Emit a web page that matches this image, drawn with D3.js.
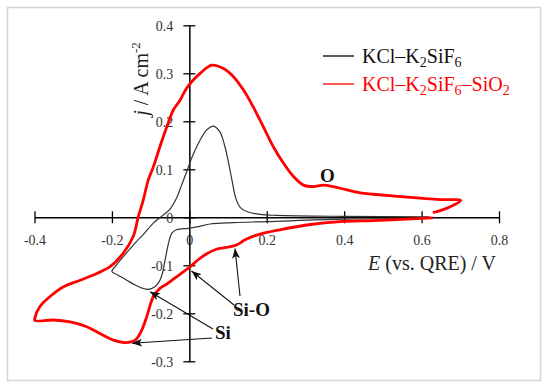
<!DOCTYPE html>
<html><head><meta charset="utf-8">
<script src="https://cdn.jsdelivr.net/npm/d3@7"></script>
<style>
body{margin:0;background:#fff}
svg{display:block}
</style>
</head><body>
<svg id="c" width="550" height="390" font-family="'Liberation Serif', 'DejaVu Serif', serif"></svg>
<script>
const FONT = "'Liberation Serif', 'DejaVu Serif', serif";
// ---- data ----
const xTicks = [-0.4, -0.2, 0, 0.2, 0.4, 0.6, 0.8];
const yTicks = [-0.3, -0.2, -0.1, 0, 0.1, 0.2, 0.3, 0.4];
const xTickLabels = ["-0.4", "-0.2", "0", "0.2", "0.4", "0.6", "0.8"];
const yTickLabels = ["-0.3", "-0.2", "-0.1", "0", "0.1", "0.2", "0.3", "0.4"];

// KCl–K2SiF6 (black)
const blackE = [0.62,0.4,0.2,0.114,0.053,0.019,-0.003,-0.033,-0.045,-0.052,-0.058,-0.064,-0.069,-0.077,-0.090,-0.106,-0.120,-0.140,-0.162,-0.185,-0.200,
  -0.190,-0.162,-0.136,-0.119,-0.093,-0.070,-0.050,-0.033,-0.020,-0.007,0.002,0.015,0.028,0.045,0.062,0.079,0.092,0.101,0.110,0.120,0.132,0.148,0.183,0.226,0.400,0.620];
const blackJ = [-0.002,-0.004,-0.009,-0.011,-0.014,-0.020,-0.023,-0.026,-0.033,-0.048,-0.070,-0.095,-0.115,-0.133,-0.145,-0.150,-0.148,-0.141,-0.131,-0.120,-0.113,
  -0.101,-0.074,-0.050,-0.036,-0.012,0.003,0.017,0.040,0.067,0.095,0.115,0.140,0.161,0.182,0.190,0.178,0.147,0.115,0.078,0.040,0.020,0.012,0.006,0.004,0.002,0.001];

// KCl–K2SiF6–SiO2 (red)
const redE = [0.629,0.562,0.475,0.389,0.312,0.234,0.174,0.144,0.121,0.092,0.071,0.045,0.022,0.002,-0.033,-0.058,-0.076,-0.093,-0.110,-0.123,-0.140,-0.166,-0.196,-0.231,-0.265,-0.308,-0.351,-0.399,
  -0.399,-0.386,-0.360,-0.326,-0.282,-0.239,-0.205,-0.171,-0.145,-0.132,-0.119,-0.106,-0.093,-0.076,-0.058,-0.041,-0.024,-0.007,0.010,0.028,0.058,0.088,0.114,0.140,0.165,0.191,0.217,0.243,0.269,0.295,0.320,0.346,0.372,0.407,0.441,0.475,0.562,0.648,0.701,0.674,0.648,0.629];
const redJ = [-0.001,-0.004,-0.007,-0.009,-0.015,-0.026,-0.037,-0.047,-0.058,-0.063,-0.066,-0.076,-0.089,-0.103,-0.124,-0.139,-0.148,-0.165,-0.207,-0.235,-0.256,-0.261,-0.256,-0.242,-0.228,-0.218,-0.214,-0.215,
  -0.210,-0.186,-0.165,-0.145,-0.131,-0.117,-0.103,-0.075,-0.040,0.001,0.036,0.078,0.105,0.147,0.189,0.224,0.244,0.269,0.286,0.300,0.317,0.310,0.293,0.265,0.230,0.189,0.147,0.113,0.085,0.067,0.064,0.067,0.064,0.057,0.051,0.048,0.042,0.037,0.035,0.022,0.014,0.010];

const seriesColors = ["#333333", "#ff0000"];

// ---- chart ----
const svg = d3.select("#c");
svg.append("rect").attr("x",7.5).attr("y",7.5).attr("width",533).attr("height",373)
  .attr("fill","#fff").attr("stroke","#d4d4d4").attr("stroke-width",1.5);

const x = d3.scaleLinear().domain([-0.4, 0.8]).range([34.5, 499]);
const y = d3.scaleLinear().domain([-0.3, 0.4]).range([361.3, 25.3]);

// x axis
const gx = svg.append("g").attr("transform", `translate(0,${y(0)})`)
  .call(d3.axisBottom(x).tickValues(xTicks).tickFormat((d,i)=>xTickLabels[i]).tickSizeOuter(0).tickSizeInner(6));
gx.attr("font-family", FONT).attr("font-size", 14);
gx.select(".domain").attr("stroke","#000").attr("stroke-width",1.5);
gx.selectAll(".tick line").attr("y1",-6).attr("y2",6).attr("stroke","#000").attr("stroke-width",1.3);
gx.selectAll(".tick text").attr("y",28).attr("dy",0).attr("fill","#333");

// y axis
const gy = svg.append("g").attr("transform", `translate(${x(0)},0)`)
  .call(d3.axisLeft(y).tickValues(yTicks).tickFormat((d,i)=>yTickLabels[i]).tickSizeOuter(0).tickSizeInner(6));
gy.attr("font-family", FONT).attr("font-size", 14);
gy.select(".domain").attr("stroke","#000").attr("stroke-width",1.5);
gy.selectAll(".tick line").attr("x1",-6).attr("x2",6).attr("stroke","#000").attr("stroke-width",1.3);
gy.selectAll(".tick text").attr("x",-16).attr("dy","0.34em").attr("fill","#333");

// axis titles
const xt = svg.append("text").attr("x",496).attr("y",270).attr("text-anchor","end")
  .attr("font-family",FONT).attr("font-size",20).attr("fill","#222");
xt.append("tspan").attr("font-style","italic").text("E");
xt.append("tspan").text(" (vs. QRE) / V");

const yt = svg.append("text").attr("transform","translate(148,79) rotate(-90)")
  .attr("text-anchor","middle").attr("font-family",FONT).attr("font-size",20).attr("fill","#222");
yt.append("tspan").attr("font-style","italic").text("j");
yt.append("tspan").text(" / A cm");
yt.append("tspan").attr("font-size",13).attr("dy",-8).text("-2");

// curves
const line = d3.line().x(d=>x(d[0])).y(d=>y(d[1])).curve(d3.curveCatmullRom.alpha(0.5));
const blackData = blackE.map((e,i)=>[e, blackJ[i]]);
const redData = redE.map((e,i)=>[e, redJ[i]]);
svg.append("path").datum(blackData).attr("d",line).attr("fill","none")
  .attr("stroke",seriesColors[0]).attr("stroke-width",1.2);
svg.append("path").datum(redData).attr("d",line).attr("fill","none")
  .attr("stroke",seriesColors[1]).attr("stroke-width",2.8).attr("stroke-linejoin","round");

// legend
function legendLabel(g, yb, parts, color){
  const t = g.append("text").attr("x",362).attr("y",yb).attr("font-family",FONT).attr("font-size",20).attr("fill",color);
  let shifted = false;
  parts.forEach(p=>{
    const ts = t.append("tspan").text(p.t);
    if(p.sub){ ts.attr("font-size",14).attr("dy", shifted ? 0 : 4); shifted = true; }
    else { ts.attr("dy", shifted ? -4 : 0); shifted = false; }
  });
}
const lg = svg.append("g");
lg.append("line").attr("x1",323).attr("x2",354).attr("y1",56).attr("y2",56).attr("stroke","#000").attr("stroke-width",1.3);
lg.append("line").attr("x1",323).attr("x2",354).attr("y1",84).attr("y2",84).attr("stroke","#ff0000").attr("stroke-width",1.3);
legendLabel(lg, 62.7, [{t:"KCl–K"},{t:"2",sub:1},{t:"SiF"},{t:"6",sub:1}], "#111");
legendLabel(lg, 90.7, [{t:"KCl–K"},{t:"2",sub:1},{t:"SiF"},{t:"6",sub:1},{t:"–SiO"},{t:"2",sub:1}], "#ff0000");

// annotations
svg.append("defs").append("marker").attr("id","ah").attr("viewBox","0 0 10 8")
  .attr("refX",10).attr("refY",4).attr("markerWidth",10).attr("markerHeight",8)
  .attr("markerUnits","userSpaceOnUse").attr("orient","auto")
  .append("path").attr("d","M0,0 L10,4 L0,8 L2.5,4 Z").attr("fill","#111");
const arrows = [
  [212,338,132,343.3],
  [213,329,150,291.7],
  [234,305,191.5,271],
  [240,296,235,248.5]
];
svg.selectAll(".arr").data(arrows).enter().append("line")
  .attr("x1",d=>d[0]).attr("y1",d=>d[1]).attr("x2",d=>d[2]).attr("y2",d=>d[3])
  .attr("stroke","#111").attr("stroke-width",1.1).attr("marker-end","url(#ah)");
const notes = [["O",320,181.5],["Si-O",233,315.5],["Si",215,339]];
svg.selectAll(".note").data(notes).enter().append("text")
  .attr("x",d=>d[1]).attr("y",d=>d[2]).attr("font-family",FONT).attr("font-size",19).attr("font-weight","bold")
  .attr("fill","#111").text(d=>d[0]);
</script>
</body></html>
